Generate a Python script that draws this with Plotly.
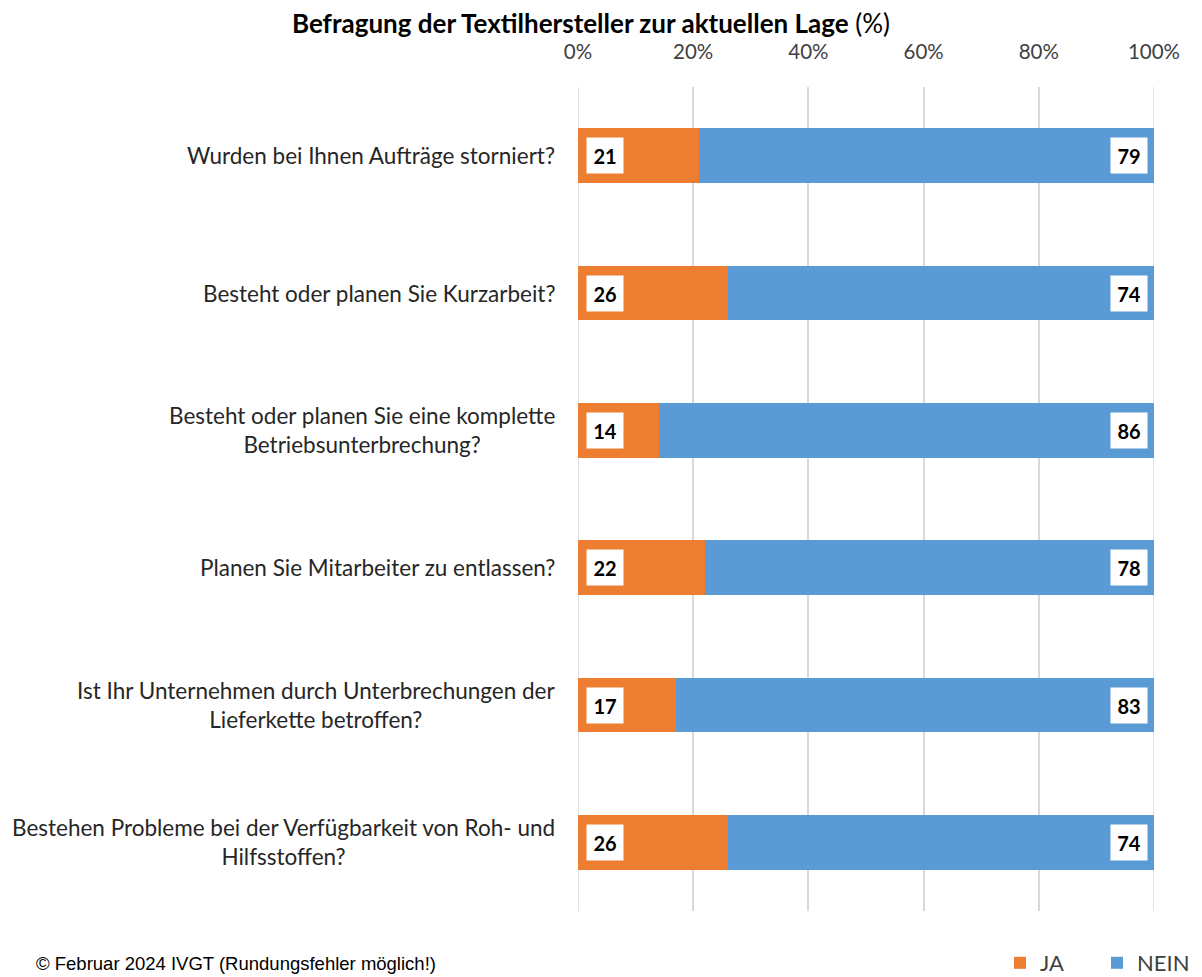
import plotly.graph_objects as go

questions = [
    "Wurden bei Ihnen Aufträge storniert?",
    "Besteht oder planen Sie Kurzarbeit?",
    "Besteht oder planen Sie eine komplette<br>Betriebsunterbrechung?",
    "Planen Sie Mitarbeiter zu entlassen?",
    "Ist Ihr Unternehmen durch Unterbrechungen der<br>Lieferkette betroffen?",
    "Bestehen Probleme bei der Verfügbarkeit von Roh- und<br>Hilfsstoffen?",
]
ja = [21, 26, 14, 22, 17, 26]
nein = [79, 74, 86, 78, 83, 74]
tick_vals = [0, 20, 40, 60, 80, 100]
tick_text = ["0%", "20%", "40%", "60%", "80%", "100%"]

ORANGE = "#ED7D31"
BLUE = "#5B9BD5"
FONT = "Lato"

# page body has an 8px margin -> figure sized to fit the window
W, H = 1194, 969
ML, MT, PW, PH = 570, 79, 576, 824

fig = go.Figure()
fig.add_trace(go.Bar(y=questions, x=ja, name="JA", orientation="h",
                     marker=dict(color=ORANGE, line=dict(width=0)), hoverinfo="x+y"))
fig.add_trace(go.Bar(y=questions, x=nein, name="NEIN", orientation="h",
                     marker=dict(color=BLUE, line=dict(width=0)), hoverinfo="x+y"))

annotations = []
for q, a, b in zip(questions, ja, nein):
    annotations.append(dict(x=0, y=q, xref="x", yref="y", text=f"<b>{a}</b>",
                            showarrow=False, xanchor="left", xshift=8,
                            bgcolor="white", width=34, height=33,
                            font=dict(family=FONT, size=20, color="black")))
    annotations.append(dict(x=a + b, y=q, xref="x", yref="y", text=f"<b>{b}</b>",
                            showarrow=False, xanchor="right", xshift=-6,
                            bgcolor="white", width=34, height=33,
                            font=dict(family=FONT, size=20, color="black")))
    annotations.append(dict(x=0, y=q, xref="x", yref="y", text=q,
                            showarrow=False, xanchor="right", align="center",
                            xshift=-21,
                            font=dict(family=FONT, size=22.5, color="#262626")))

annotations.append(dict(x=(26 - ML) / PW, y=(MT + PH - 956) / PH, xref="paper", yref="paper",
                        xanchor="left", yanchor="middle", showarrow=False,
                        text="© Februar 2024 IVGT (Rundungsfehler möglich!)",
                        font=dict(family="Liberation Sans", size=18.5, color="black")))

shapes = [dict(type="line", xref="x", yref="paper", x0=v, x1=v, y0=0, y1=1,
               layer="below", line=dict(color="#d9d9d9", width=1.5))
          for v in (tick_vals[0], tick_vals[-1])]

fig.update_layout(
    width=W, height=H,
    barmode="stack", bargap=0.6,
    plot_bgcolor="white", paper_bgcolor="white",
    margin=dict(l=ML, r=W - ML - PW, t=MT, b=H - MT - PH, autoexpand=False),
    title=dict(text="<b>Befragung der Textilhersteller zur aktuellen Lage</b> (%)",
               x=583 / W, xanchor="center", y=1 - 16 / H, yanchor="middle",
               font=dict(family=FONT, size=26, color="black")),
    xaxis=dict(side="top", range=[0, 100], tickvals=tick_vals, ticktext=tick_text,
               showgrid=True, gridcolor="#d9d9d9", gridwidth=1.5, zeroline=False,
               showline=False, ticks="", ticklabelstandoff=23,
               tickfont=dict(family=FONT, size=20.5, color="#404040")),
    yaxis=dict(autorange="reversed", showticklabels=False, showgrid=False,
               zeroline=False, showline=False),
    legend=dict(orientation="h", x=1 + 40 / PW, xanchor="right",
                y=(MT + PH - 955) / PH, yanchor="middle", traceorder="normal",
                font=dict(family=FONT, size=22, color="#404040"),
                itemwidth=30, entrywidth=52),
    showlegend=True,
    shapes=shapes,
    annotations=annotations,
)

fig.write_html("out.html")
